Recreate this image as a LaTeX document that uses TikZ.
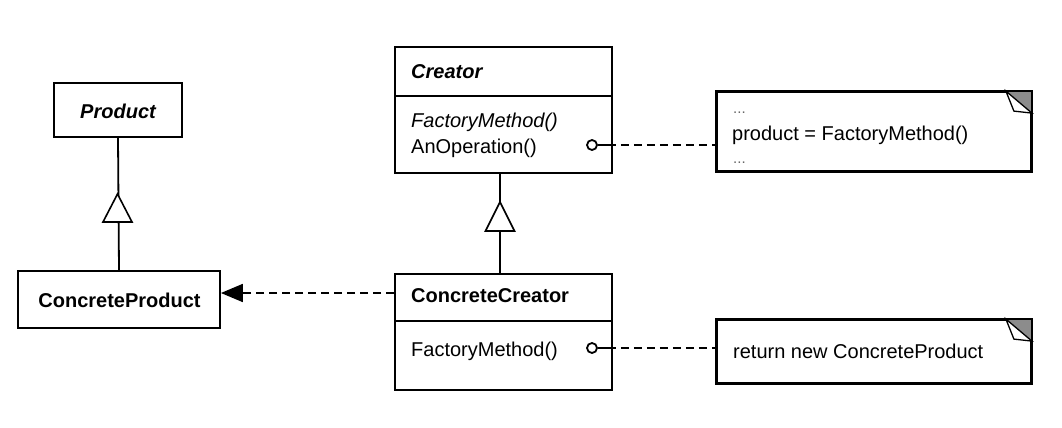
\documentclass[tikz,border=0pt]{standalone}
\usepackage{fontspec}
\setmainfont{Liberation Sans}
\usetikzlibrary{arrows.meta}
\tikzset{
  x=1pt,y=-1pt,
  every node/.style={font=\fontsize{20}{24}\selectfont},
  cls/.style={draw,line width=1.8pt,inner sep=0pt,fill=white},
  lbl/.style={inner sep=0pt},
  conn/.style={line width=1.8pt},
  dep/.style={line width=1.8pt,dash pattern=on 8pt off 5pt},
  inh/.style={line width=1.6pt,fill=white,line join=miter},
  pin/.style={circle,draw,line width=1.8pt,inner sep=0pt,minimum size=10pt,fill=white},
  notebox/.style={draw,line width=1.8pt,inner sep=0pt,fill=white},
  dots/.style={inner sep=0pt,text=black!60,font=\fontsize{15}{18}\selectfont},
}
\begin{document}
\begin{tikzpicture}
\useasboundingbox (0,0) rectangle (1062,428);
\fill[white] (0,0) rectangle (1062,428);

% Product
\node[cls,minimum width=128pt,minimum height=54pt] (product) at (118,110) {};
\node[lbl,anchor=base] (productN) at (118,118) {\bfseries\itshape Product};

% ConcreteProduct
\node[cls,minimum width=202pt,minimum height=57pt] (cp) at (119,299.5) {};
\node[lbl,anchor=base] (cpN) at (119.5,307) {\bfseries ConcreteProduct};

% Creator
\node[cls,minimum width=217pt,minimum height=49pt] (creatorT) at (503.5,71.5) {};
\node[cls,minimum width=217pt,minimum height=77pt] (creatorB) at (503.5,134.5) {};
\node[lbl,anchor=base west] (creatorN) at (411,78) {\bfseries\itshape Creator};
\node[lbl,anchor=base west] (creatorM1) at (411,127) {\itshape FactoryMethod()};
\node[lbl,anchor=base west] (creatorM2) at (411,153) {AnOperation()};

% ConcreteCreator
\node[cls,minimum width=217pt,minimum height=47pt] (cct) at (503.5,297.5) {};
\node[cls,minimum width=217pt,minimum height=69pt] (ccb) at (503.5,355.5) {};
\node[lbl,anchor=base west] (ccN) at (411,302) {\bfseries ConcreteCreator};
\node[lbl,anchor=base west] (ccM1) at (411,356) {FactoryMethod()};

% Notes
\node[notebox,minimum width=314pt,minimum height=79pt] (note1) at (874,131.5) {};
\node[notebox,minimum width=314pt,minimum height=63pt] (note2) at (874,351.5) {};
\fill[black!45] ([xshift=-26pt]note1.north east) -- (note1.north east) -- ([yshift=-22pt]note1.north east) -- cycle;
\draw[line width=1.3pt,fill=white] ([xshift=-26pt]note1.north east) -- ([yshift=-22pt]note1.north east) -- ([xshift=-18pt,yshift=-20pt]note1.north east) -- cycle;
\fill[black!45] ([xshift=-26pt]note2.north east) -- (note2.north east) -- ([yshift=-22pt]note2.north east) -- cycle;
\draw[line width=1.3pt,fill=white] ([xshift=-26pt]note2.north east) -- ([yshift=-22pt]note2.north east) -- ([xshift=-18pt,yshift=-20pt]note2.north east) -- cycle;
\draw[line width=1.8pt] (note1.north west) rectangle (note1.south east);
\draw[line width=1.8pt] (note2.north west) rectangle (note2.south east);
\node[dots,anchor=base west] (n1a) at (733,113) {...};
\node[lbl,anchor=base west] (n1b) at (732,140) {product = FactoryMethod()};
\node[dots,anchor=base west] (n1c) at (733,163) {...};
\node[lbl,anchor=base west] (n2a) at (733,358) {return new ConcreteProduct};

% Inheritance: ConcreteProduct -> Product
\draw[conn] (cp.north) -- (product.south);
\draw[inh] (117.5,194) -- (132,222) -- (103,222) -- cycle;

% Inheritance: ConcreteCreator -> Creator
\draw[conn] (cct.north -| 500,0) -- (creatorB.south -| 500,0);
\draw[inh] (500,202) -- (514.5,231) -- (485.5,231) -- cycle;

% Dependency: ConcreteCreator -> ConcreteProduct
\coordinate (depS) at (cct.west |- 0,293);
\coordinate (depE) at (cp.east |- 0,293);
\draw[dep,-{Triangle[length=22pt,width=18pt]}] (depS) -- (depE);

% Pins to notes
\node[pin] (pin1) at (592,145) {};
\node[pin] (pin2) at (592,348) {};
\draw[conn] (pin1.east) -- ++(10,0) coordinate (p1e);
\draw[dep] (p1e) -- (note1.west |- pin1);
\draw[conn] (pin2.east) -- ++(10,0) coordinate (p2e);
\draw[dep] (p2e) -- (note2.west |- pin2);
\end{tikzpicture}
\end{document}
